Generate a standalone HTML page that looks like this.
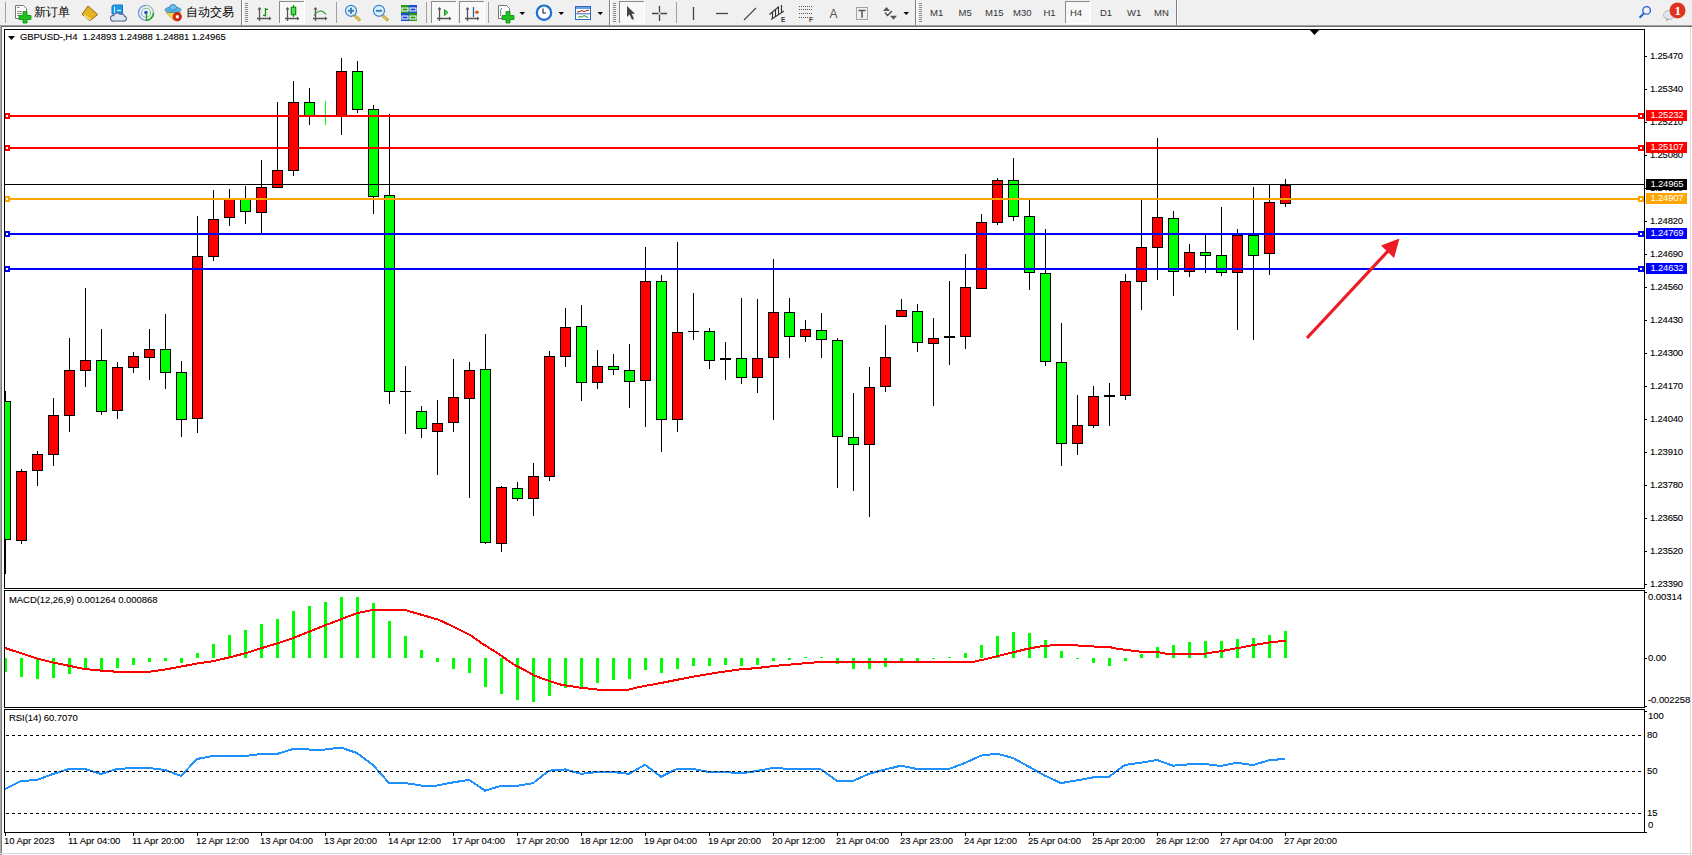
<!DOCTYPE html>
<html><head><meta charset="utf-8">
<style>
html,body{margin:0;padding:0;}
body{width:1692px;height:855px;position:relative;overflow:hidden;background:#fff;font-family:"Liberation Sans",sans-serif;}
#tb{position:absolute;left:0;top:0;width:1692px;height:25px;background:#f0f0f0;}
#tbl{position:absolute;left:0;top:25px;width:1692px;height:1px;background:#a0a0a0;}
#tbl2{position:absolute;left:0;top:26px;width:1692px;height:1px;background:#6e6e6e;}
#lb{position:absolute;left:0;top:25px;width:1px;height:830px;background:#a8a8a8;}
#lb2{position:absolute;left:1px;top:25px;width:1px;height:830px;background:#7c7c7c;}
#rb{position:absolute;left:1690px;top:27px;width:1px;height:828px;background:#dcdcdc;}
#bb{position:absolute;left:0;top:853px;width:1692px;height:1px;background:#dcdcdc;}
svg#ch{position:absolute;left:0;top:0;}
.ax{position:absolute;font-size:9.5px;line-height:12px;white-space:nowrap;color:#000;letter-spacing:-0.07px;-webkit-text-stroke:0.1px #000;}
.pax{letter-spacing:-0.2px;}
.plab{position:absolute;left:1646px;width:41px;height:11px;color:#fff;font-size:9.5px;line-height:9px;text-indent:4.5px;letter-spacing:-0.2px;white-space:nowrap;}
.tbt{position:absolute;font-size:9.5px;line-height:12px;color:#333;white-space:nowrap;}
.tbc{position:absolute;line-height:14px;color:#000;white-space:nowrap;}
</style></head><body>
<div id="tb"></div><div id="tbl"></div><div id="tbl2"></div><div id="lb"></div><div id="lb2"></div><div id="rb"></div><div id="bb"></div>
<svg id="ch" width="1692" height="855" viewBox="0 0 1692 855">
<defs><clipPath id="cm"><rect x="5" y="30" width="1639" height="558"/></clipPath><clipPath id="cd"><rect x="5" y="591" width="1639" height="116"/></clipPath><clipPath id="cr"><rect x="5" y="710" width="1639" height="122"/></clipPath></defs>
<g clip-path="url(#cm)" shape-rendering="crispEdges">
<rect x="5" y="391" width="1" height="183" fill="#000"/>
<rect x="0" y="401" width="11" height="139" fill="#000"/>
<rect x="1" y="402" width="9" height="137" fill="#00ff00"/>
<rect x="21" y="469" width="1" height="75" fill="#000"/>
<rect x="16" y="471" width="11" height="70" fill="#000"/>
<rect x="17" y="472" width="9" height="68" fill="#ff0000"/>
<rect x="37" y="451" width="1" height="35" fill="#000"/>
<rect x="32" y="454" width="11" height="17" fill="#000"/>
<rect x="33" y="455" width="9" height="15" fill="#ff0000"/>
<rect x="53" y="398" width="1" height="68" fill="#000"/>
<rect x="48" y="415" width="11" height="40" fill="#000"/>
<rect x="49" y="416" width="9" height="38" fill="#ff0000"/>
<rect x="69" y="338" width="1" height="94" fill="#000"/>
<rect x="64" y="370" width="11" height="46" fill="#000"/>
<rect x="65" y="371" width="9" height="44" fill="#ff0000"/>
<rect x="85" y="288" width="1" height="99" fill="#000"/>
<rect x="80" y="360" width="11" height="11" fill="#000"/>
<rect x="81" y="361" width="9" height="9" fill="#ff0000"/>
<rect x="101" y="329" width="1" height="86" fill="#000"/>
<rect x="96" y="360" width="11" height="52" fill="#000"/>
<rect x="97" y="361" width="9" height="50" fill="#00ff00"/>
<rect x="117" y="362" width="1" height="57" fill="#000"/>
<rect x="112" y="367" width="11" height="44" fill="#000"/>
<rect x="113" y="368" width="9" height="42" fill="#ff0000"/>
<rect x="133" y="352" width="1" height="21" fill="#000"/>
<rect x="128" y="356" width="11" height="12" fill="#000"/>
<rect x="129" y="357" width="9" height="10" fill="#ff0000"/>
<rect x="149" y="329" width="1" height="51" fill="#000"/>
<rect x="144" y="349" width="11" height="9" fill="#000"/>
<rect x="145" y="350" width="9" height="7" fill="#ff0000"/>
<rect x="165" y="314" width="1" height="75" fill="#000"/>
<rect x="160" y="349" width="11" height="24" fill="#000"/>
<rect x="161" y="350" width="9" height="22" fill="#00ff00"/>
<rect x="181" y="361" width="1" height="76" fill="#000"/>
<rect x="176" y="372" width="11" height="48" fill="#000"/>
<rect x="177" y="373" width="9" height="46" fill="#00ff00"/>
<rect x="197" y="216" width="1" height="217" fill="#000"/>
<rect x="192" y="256" width="11" height="163" fill="#000"/>
<rect x="193" y="257" width="9" height="161" fill="#ff0000"/>
<rect x="213" y="190" width="1" height="71" fill="#000"/>
<rect x="208" y="219" width="11" height="38" fill="#000"/>
<rect x="209" y="220" width="9" height="36" fill="#ff0000"/>
<rect x="229" y="189" width="1" height="37" fill="#000"/>
<rect x="224" y="199" width="11" height="19" fill="#000"/>
<rect x="225" y="200" width="9" height="17" fill="#ff0000"/>
<rect x="245" y="186" width="1" height="38" fill="#000"/>
<rect x="240" y="199" width="11" height="13" fill="#000"/>
<rect x="241" y="200" width="9" height="11" fill="#00ff00"/>
<rect x="261" y="160" width="1" height="74" fill="#000"/>
<rect x="256" y="187" width="11" height="26" fill="#000"/>
<rect x="257" y="188" width="9" height="24" fill="#ff0000"/>
<rect x="277" y="102" width="1" height="86" fill="#000"/>
<rect x="272" y="170" width="11" height="18" fill="#000"/>
<rect x="273" y="171" width="9" height="16" fill="#ff0000"/>
<rect x="293" y="81" width="1" height="95" fill="#000"/>
<rect x="288" y="102" width="11" height="69" fill="#000"/>
<rect x="289" y="103" width="9" height="67" fill="#ff0000"/>
<rect x="309" y="88" width="1" height="37" fill="#000"/>
<rect x="304" y="102" width="11" height="14" fill="#000"/>
<rect x="305" y="103" width="9" height="12" fill="#00ff00"/>
<rect x="325" y="101" width="1" height="24" fill="#00ff00"/>
<rect x="341" y="58" width="1" height="77" fill="#000"/>
<rect x="336" y="71" width="11" height="45" fill="#000"/>
<rect x="337" y="72" width="9" height="43" fill="#ff0000"/>
<rect x="357" y="61" width="1" height="52" fill="#000"/>
<rect x="352" y="71" width="11" height="39" fill="#000"/>
<rect x="353" y="72" width="9" height="37" fill="#00ff00"/>
<rect x="373" y="105" width="1" height="109" fill="#000"/>
<rect x="368" y="109" width="11" height="88" fill="#000"/>
<rect x="369" y="110" width="9" height="86" fill="#00ff00"/>
<rect x="389" y="114" width="1" height="290" fill="#000"/>
<rect x="384" y="195" width="11" height="197" fill="#000"/>
<rect x="385" y="196" width="9" height="195" fill="#00ff00"/>
<rect x="405" y="366" width="1" height="68" fill="#000"/>
<rect x="400" y="391" width="11" height="1" fill="#000"/>
<rect x="421" y="406" width="1" height="32" fill="#000"/>
<rect x="416" y="411" width="11" height="18" fill="#000"/>
<rect x="417" y="412" width="9" height="16" fill="#00ff00"/>
<rect x="437" y="400" width="1" height="75" fill="#000"/>
<rect x="432" y="423" width="11" height="9" fill="#000"/>
<rect x="433" y="424" width="9" height="7" fill="#ff0000"/>
<rect x="453" y="359" width="1" height="73" fill="#000"/>
<rect x="448" y="397" width="11" height="26" fill="#000"/>
<rect x="449" y="398" width="9" height="24" fill="#ff0000"/>
<rect x="469" y="362" width="1" height="136" fill="#000"/>
<rect x="464" y="370" width="11" height="29" fill="#000"/>
<rect x="465" y="371" width="9" height="27" fill="#ff0000"/>
<rect x="485" y="334" width="1" height="210" fill="#000"/>
<rect x="480" y="369" width="11" height="174" fill="#000"/>
<rect x="481" y="370" width="9" height="172" fill="#00ff00"/>
<rect x="501" y="486" width="1" height="66" fill="#000"/>
<rect x="496" y="487" width="11" height="57" fill="#000"/>
<rect x="497" y="488" width="9" height="55" fill="#ff0000"/>
<rect x="517" y="482" width="1" height="19" fill="#000"/>
<rect x="512" y="488" width="11" height="11" fill="#000"/>
<rect x="513" y="489" width="9" height="9" fill="#00ff00"/>
<rect x="533" y="463" width="1" height="53" fill="#000"/>
<rect x="528" y="476" width="11" height="23" fill="#000"/>
<rect x="529" y="477" width="9" height="21" fill="#ff0000"/>
<rect x="549" y="351" width="1" height="130" fill="#000"/>
<rect x="544" y="356" width="11" height="121" fill="#000"/>
<rect x="545" y="357" width="9" height="119" fill="#ff0000"/>
<rect x="565" y="308" width="1" height="59" fill="#000"/>
<rect x="560" y="327" width="11" height="30" fill="#000"/>
<rect x="561" y="328" width="9" height="28" fill="#ff0000"/>
<rect x="581" y="305" width="1" height="96" fill="#000"/>
<rect x="576" y="326" width="11" height="57" fill="#000"/>
<rect x="577" y="327" width="9" height="55" fill="#00ff00"/>
<rect x="597" y="350" width="1" height="39" fill="#000"/>
<rect x="592" y="366" width="11" height="17" fill="#000"/>
<rect x="593" y="367" width="9" height="15" fill="#ff0000"/>
<rect x="613" y="354" width="1" height="21" fill="#000"/>
<rect x="608" y="366" width="11" height="4" fill="#000"/>
<rect x="609" y="367" width="9" height="2" fill="#00ff00"/>
<rect x="629" y="344" width="1" height="64" fill="#000"/>
<rect x="624" y="370" width="11" height="12" fill="#000"/>
<rect x="625" y="371" width="9" height="10" fill="#00ff00"/>
<rect x="645" y="247" width="1" height="180" fill="#000"/>
<rect x="640" y="281" width="11" height="100" fill="#000"/>
<rect x="641" y="282" width="9" height="98" fill="#ff0000"/>
<rect x="661" y="275" width="1" height="177" fill="#000"/>
<rect x="656" y="281" width="11" height="139" fill="#000"/>
<rect x="657" y="282" width="9" height="137" fill="#00ff00"/>
<rect x="677" y="242" width="1" height="190" fill="#000"/>
<rect x="672" y="332" width="11" height="88" fill="#000"/>
<rect x="673" y="333" width="9" height="86" fill="#ff0000"/>
<rect x="693" y="293" width="1" height="47" fill="#000"/>
<rect x="688" y="331" width="11" height="1" fill="#000"/>
<rect x="709" y="328" width="1" height="41" fill="#000"/>
<rect x="704" y="331" width="11" height="30" fill="#000"/>
<rect x="705" y="332" width="9" height="28" fill="#00ff00"/>
<rect x="725" y="342" width="1" height="38" fill="#000"/>
<rect x="720" y="358" width="11" height="2" fill="#000"/>
<rect x="741" y="298" width="1" height="86" fill="#000"/>
<rect x="736" y="358" width="11" height="20" fill="#000"/>
<rect x="737" y="359" width="9" height="18" fill="#00ff00"/>
<rect x="757" y="299" width="1" height="94" fill="#000"/>
<rect x="752" y="358" width="11" height="20" fill="#000"/>
<rect x="753" y="359" width="9" height="18" fill="#ff0000"/>
<rect x="773" y="259" width="1" height="161" fill="#000"/>
<rect x="768" y="312" width="11" height="46" fill="#000"/>
<rect x="769" y="313" width="9" height="44" fill="#ff0000"/>
<rect x="789" y="298" width="1" height="60" fill="#000"/>
<rect x="784" y="312" width="11" height="25" fill="#000"/>
<rect x="785" y="313" width="9" height="23" fill="#00ff00"/>
<rect x="805" y="320" width="1" height="22" fill="#000"/>
<rect x="800" y="329" width="11" height="8" fill="#000"/>
<rect x="801" y="330" width="9" height="6" fill="#ff0000"/>
<rect x="821" y="313" width="1" height="45" fill="#000"/>
<rect x="816" y="330" width="11" height="10" fill="#000"/>
<rect x="817" y="331" width="9" height="8" fill="#00ff00"/>
<rect x="837" y="338" width="1" height="150" fill="#000"/>
<rect x="832" y="340" width="11" height="97" fill="#000"/>
<rect x="833" y="341" width="9" height="95" fill="#00ff00"/>
<rect x="853" y="393" width="1" height="98" fill="#000"/>
<rect x="848" y="437" width="11" height="8" fill="#000"/>
<rect x="849" y="438" width="9" height="6" fill="#00ff00"/>
<rect x="869" y="367" width="1" height="150" fill="#000"/>
<rect x="864" y="387" width="11" height="58" fill="#000"/>
<rect x="865" y="388" width="9" height="56" fill="#ff0000"/>
<rect x="885" y="325" width="1" height="67" fill="#000"/>
<rect x="880" y="357" width="11" height="30" fill="#000"/>
<rect x="881" y="358" width="9" height="28" fill="#ff0000"/>
<rect x="901" y="299" width="1" height="18" fill="#000"/>
<rect x="896" y="310" width="11" height="7" fill="#000"/>
<rect x="897" y="311" width="9" height="5" fill="#ff0000"/>
<rect x="917" y="304" width="1" height="48" fill="#000"/>
<rect x="912" y="311" width="11" height="32" fill="#000"/>
<rect x="913" y="312" width="9" height="30" fill="#00ff00"/>
<rect x="933" y="318" width="1" height="88" fill="#000"/>
<rect x="928" y="338" width="11" height="6" fill="#000"/>
<rect x="929" y="339" width="9" height="4" fill="#ff0000"/>
<rect x="949" y="281" width="1" height="84" fill="#000"/>
<rect x="944" y="336" width="11" height="2" fill="#000"/>
<rect x="965" y="254" width="1" height="95" fill="#000"/>
<rect x="960" y="287" width="11" height="50" fill="#000"/>
<rect x="961" y="288" width="9" height="48" fill="#ff0000"/>
<rect x="981" y="214" width="1" height="75" fill="#000"/>
<rect x="976" y="222" width="11" height="67" fill="#000"/>
<rect x="977" y="223" width="9" height="65" fill="#ff0000"/>
<rect x="997" y="178" width="1" height="47" fill="#000"/>
<rect x="992" y="180" width="11" height="43" fill="#000"/>
<rect x="993" y="181" width="9" height="41" fill="#ff0000"/>
<rect x="1013" y="158" width="1" height="63" fill="#000"/>
<rect x="1008" y="180" width="11" height="37" fill="#000"/>
<rect x="1009" y="181" width="9" height="35" fill="#00ff00"/>
<rect x="1029" y="200" width="1" height="90" fill="#000"/>
<rect x="1024" y="216" width="11" height="57" fill="#000"/>
<rect x="1025" y="217" width="9" height="55" fill="#00ff00"/>
<rect x="1045" y="229" width="1" height="137" fill="#000"/>
<rect x="1040" y="273" width="11" height="89" fill="#000"/>
<rect x="1041" y="274" width="9" height="87" fill="#00ff00"/>
<rect x="1061" y="323" width="1" height="143" fill="#000"/>
<rect x="1056" y="362" width="11" height="82" fill="#000"/>
<rect x="1057" y="363" width="9" height="80" fill="#00ff00"/>
<rect x="1077" y="395" width="1" height="60" fill="#000"/>
<rect x="1072" y="425" width="11" height="19" fill="#000"/>
<rect x="1073" y="426" width="9" height="17" fill="#ff0000"/>
<rect x="1093" y="386" width="1" height="42" fill="#000"/>
<rect x="1088" y="396" width="11" height="30" fill="#000"/>
<rect x="1089" y="397" width="9" height="28" fill="#ff0000"/>
<rect x="1109" y="383" width="1" height="43" fill="#000"/>
<rect x="1104" y="395" width="11" height="2" fill="#000"/>
<rect x="1125" y="274" width="1" height="126" fill="#000"/>
<rect x="1120" y="281" width="11" height="115" fill="#000"/>
<rect x="1121" y="282" width="9" height="113" fill="#ff0000"/>
<rect x="1141" y="200" width="1" height="110" fill="#000"/>
<rect x="1136" y="247" width="11" height="35" fill="#000"/>
<rect x="1137" y="248" width="9" height="33" fill="#ff0000"/>
<rect x="1157" y="138" width="1" height="142" fill="#000"/>
<rect x="1152" y="217" width="11" height="31" fill="#000"/>
<rect x="1153" y="218" width="9" height="29" fill="#ff0000"/>
<rect x="1173" y="211" width="1" height="85" fill="#000"/>
<rect x="1168" y="218" width="11" height="54" fill="#000"/>
<rect x="1169" y="219" width="9" height="52" fill="#00ff00"/>
<rect x="1189" y="244" width="1" height="33" fill="#000"/>
<rect x="1184" y="252" width="11" height="20" fill="#000"/>
<rect x="1185" y="253" width="9" height="18" fill="#ff0000"/>
<rect x="1205" y="235" width="1" height="38" fill="#000"/>
<rect x="1200" y="252" width="11" height="4" fill="#000"/>
<rect x="1201" y="253" width="9" height="2" fill="#00ff00"/>
<rect x="1221" y="207" width="1" height="69" fill="#000"/>
<rect x="1216" y="255" width="11" height="18" fill="#000"/>
<rect x="1217" y="256" width="9" height="16" fill="#00ff00"/>
<rect x="1237" y="229" width="1" height="101" fill="#000"/>
<rect x="1232" y="235" width="11" height="38" fill="#000"/>
<rect x="1233" y="236" width="9" height="36" fill="#ff0000"/>
<rect x="1253" y="187" width="1" height="153" fill="#000"/>
<rect x="1248" y="235" width="11" height="21" fill="#000"/>
<rect x="1249" y="236" width="9" height="19" fill="#00ff00"/>
<rect x="1269" y="185" width="1" height="90" fill="#000"/>
<rect x="1264" y="202" width="11" height="52" fill="#000"/>
<rect x="1265" y="203" width="9" height="50" fill="#ff0000"/>
<rect x="1285" y="179" width="1" height="28" fill="#000"/>
<rect x="1280" y="185" width="11" height="19" fill="#000"/>
<rect x="1281" y="186" width="9" height="17" fill="#ff0000"/>
<rect x="4" y="115" width="1640" height="2" fill="#ff0000"/>
<rect x="4" y="147" width="1640" height="2" fill="#ff0000"/>
<rect x="4" y="198" width="1640" height="2" fill="#ffa500"/>
<rect x="4" y="233" width="1640" height="2" fill="#0000ff"/>
<rect x="4" y="268" width="1640" height="2" fill="#0000ff"/>
<rect x="4" y="184" width="1640" height="1" fill="#000"/>
</g>
<rect x="4" y="113" width="6" height="6" fill="#ff0000" shape-rendering="crispEdges"/><rect x="6" y="115" width="2" height="2" fill="#fff" shape-rendering="crispEdges"/>
<rect x="1638" y="113" width="6" height="6" fill="#ff0000" shape-rendering="crispEdges"/><rect x="1640" y="115" width="2" height="2" fill="#fff" shape-rendering="crispEdges"/>
<rect x="4" y="145" width="6" height="6" fill="#ff0000" shape-rendering="crispEdges"/><rect x="6" y="147" width="2" height="2" fill="#fff" shape-rendering="crispEdges"/>
<rect x="1638" y="145" width="6" height="6" fill="#ff0000" shape-rendering="crispEdges"/><rect x="1640" y="147" width="2" height="2" fill="#fff" shape-rendering="crispEdges"/>
<rect x="4" y="196" width="6" height="6" fill="#ffa500" shape-rendering="crispEdges"/><rect x="6" y="198" width="2" height="2" fill="#fff" shape-rendering="crispEdges"/>
<rect x="1638" y="196" width="6" height="6" fill="#ffa500" shape-rendering="crispEdges"/><rect x="1640" y="198" width="2" height="2" fill="#fff" shape-rendering="crispEdges"/>
<rect x="4" y="231" width="6" height="6" fill="#0000ff" shape-rendering="crispEdges"/><rect x="6" y="233" width="2" height="2" fill="#fff" shape-rendering="crispEdges"/>
<rect x="1638" y="231" width="6" height="6" fill="#0000ff" shape-rendering="crispEdges"/><rect x="1640" y="233" width="2" height="2" fill="#fff" shape-rendering="crispEdges"/>
<rect x="4" y="266" width="6" height="6" fill="#0000ff" shape-rendering="crispEdges"/><rect x="6" y="268" width="2" height="2" fill="#fff" shape-rendering="crispEdges"/>
<rect x="1638" y="266" width="6" height="6" fill="#0000ff" shape-rendering="crispEdges"/><rect x="1640" y="268" width="2" height="2" fill="#fff" shape-rendering="crispEdges"/>
<g><line x1="1307" y1="338" x2="1388" y2="251" stroke="#ec1c24" stroke-width="3.2"/><polygon points="1399.5,238.5 1381,245.5 1394,258" fill="#ec1c24"/></g>
<polygon points="8,36 15,36 11.5,40" fill="#000"/>
<polygon points="1309,29 1320,29 1314.5,35" fill="#000"/>
<g clip-path="url(#cd)" shape-rendering="crispEdges">
<rect x="4" y="658" width="3" height="14" fill="#00ff00"/>
<rect x="20" y="658" width="3" height="19" fill="#00ff00"/>
<rect x="36" y="658" width="3" height="21" fill="#00ff00"/>
<rect x="52" y="658" width="3" height="20" fill="#00ff00"/>
<rect x="68" y="658" width="3" height="16" fill="#00ff00"/>
<rect x="84" y="658" width="3" height="11" fill="#00ff00"/>
<rect x="100" y="658" width="3" height="12" fill="#00ff00"/>
<rect x="116" y="658" width="3" height="10" fill="#00ff00"/>
<rect x="132" y="658" width="3" height="7" fill="#00ff00"/>
<rect x="148" y="658" width="3" height="4" fill="#00ff00"/>
<rect x="164" y="658" width="3" height="3" fill="#00ff00"/>
<rect x="180" y="658" width="3" height="5" fill="#00ff00"/>
<rect x="196" y="653" width="3" height="5" fill="#00ff00"/>
<rect x="212" y="644" width="3" height="14" fill="#00ff00"/>
<rect x="228" y="635" width="3" height="23" fill="#00ff00"/>
<rect x="244" y="630" width="3" height="28" fill="#00ff00"/>
<rect x="260" y="624" width="3" height="34" fill="#00ff00"/>
<rect x="276" y="619" width="3" height="39" fill="#00ff00"/>
<rect x="292" y="611" width="3" height="47" fill="#00ff00"/>
<rect x="308" y="606" width="3" height="52" fill="#00ff00"/>
<rect x="324" y="602" width="3" height="56" fill="#00ff00"/>
<rect x="340" y="597" width="3" height="61" fill="#00ff00"/>
<rect x="356" y="597" width="3" height="61" fill="#00ff00"/>
<rect x="372" y="603" width="3" height="55" fill="#00ff00"/>
<rect x="388" y="621" width="3" height="37" fill="#00ff00"/>
<rect x="404" y="636" width="3" height="22" fill="#00ff00"/>
<rect x="420" y="650" width="3" height="8" fill="#00ff00"/>
<rect x="436" y="658" width="3" height="4" fill="#00ff00"/>
<rect x="452" y="658" width="3" height="11" fill="#00ff00"/>
<rect x="468" y="658" width="3" height="15" fill="#00ff00"/>
<rect x="484" y="658" width="3" height="29" fill="#00ff00"/>
<rect x="500" y="658" width="3" height="36" fill="#00ff00"/>
<rect x="516" y="658" width="3" height="42" fill="#00ff00"/>
<rect x="532" y="658" width="3" height="44" fill="#00ff00"/>
<rect x="548" y="658" width="3" height="38" fill="#00ff00"/>
<rect x="564" y="658" width="3" height="30" fill="#00ff00"/>
<rect x="580" y="658" width="3" height="29" fill="#00ff00"/>
<rect x="596" y="658" width="3" height="25" fill="#00ff00"/>
<rect x="612" y="658" width="3" height="22" fill="#00ff00"/>
<rect x="628" y="658" width="3" height="21" fill="#00ff00"/>
<rect x="644" y="658" width="3" height="12" fill="#00ff00"/>
<rect x="660" y="658" width="3" height="15" fill="#00ff00"/>
<rect x="676" y="658" width="3" height="11" fill="#00ff00"/>
<rect x="692" y="658" width="3" height="8" fill="#00ff00"/>
<rect x="708" y="658" width="3" height="8" fill="#00ff00"/>
<rect x="724" y="658" width="3" height="7" fill="#00ff00"/>
<rect x="740" y="658" width="3" height="8" fill="#00ff00"/>
<rect x="756" y="658" width="3" height="7" fill="#00ff00"/>
<rect x="772" y="658" width="3" height="3" fill="#00ff00"/>
<rect x="788" y="658" width="3" height="2" fill="#00ff00"/>
<rect x="804" y="657" width="3" height="1" fill="#00ff00"/>
<rect x="820" y="657" width="3" height="1" fill="#00ff00"/>
<rect x="836" y="658" width="3" height="6" fill="#00ff00"/>
<rect x="852" y="658" width="3" height="11" fill="#00ff00"/>
<rect x="868" y="658" width="3" height="11" fill="#00ff00"/>
<rect x="884" y="658" width="3" height="9" fill="#00ff00"/>
<rect x="900" y="658" width="3" height="3" fill="#00ff00"/>
<rect x="916" y="658" width="3" height="3" fill="#00ff00"/>
<rect x="932" y="658" width="3" height="1" fill="#00ff00"/>
<rect x="948" y="657" width="3" height="1" fill="#00ff00"/>
<rect x="964" y="653" width="3" height="5" fill="#00ff00"/>
<rect x="980" y="645" width="3" height="13" fill="#00ff00"/>
<rect x="996" y="636" width="3" height="22" fill="#00ff00"/>
<rect x="1012" y="632" width="3" height="26" fill="#00ff00"/>
<rect x="1028" y="633" width="3" height="25" fill="#00ff00"/>
<rect x="1044" y="640" width="3" height="18" fill="#00ff00"/>
<rect x="1060" y="651" width="3" height="7" fill="#00ff00"/>
<rect x="1076" y="658" width="3" height="1" fill="#00ff00"/>
<rect x="1092" y="658" width="3" height="5" fill="#00ff00"/>
<rect x="1108" y="658" width="3" height="8" fill="#00ff00"/>
<rect x="1124" y="658" width="3" height="3" fill="#00ff00"/>
<rect x="1140" y="654" width="3" height="4" fill="#00ff00"/>
<rect x="1156" y="647" width="3" height="11" fill="#00ff00"/>
<rect x="1172" y="645" width="3" height="13" fill="#00ff00"/>
<rect x="1188" y="642" width="3" height="16" fill="#00ff00"/>
<rect x="1204" y="641" width="3" height="17" fill="#00ff00"/>
<rect x="1220" y="641" width="3" height="17" fill="#00ff00"/>
<rect x="1236" y="639" width="3" height="19" fill="#00ff00"/>
<rect x="1252" y="638" width="3" height="20" fill="#00ff00"/>
<rect x="1268" y="635" width="3" height="23" fill="#00ff00"/>
<rect x="1284" y="631" width="3" height="27" fill="#00ff00"/>
</g>
<g clip-path="url(#cd)"><polyline points="5,648 21.5,653.4 37.6,658.8 53.8,662.6 69.9,666 85.3,669.1 101.4,670.6 117.5,671.8 149,671.8 165.2,669.5 181.3,666.5 197.4,663.4 213.6,661.1 229.7,657.3 245.9,653.1 261.3,648.2 277.2,643.4 293.2,638.1 309.1,631.7 325.1,625.3 341.1,619.3 357,613.1 373,609.9 405,609.9 416.9,613.5 426.1,616.1 438.4,619.7 449.1,624.6 461.4,630.7 470.7,635.3 481.4,643 493.7,650.7 502.9,656.9 515.2,665.3 524.4,669.9 533.7,675.3 546,679.9 561.3,684.8 579.8,687.6 598.2,689.6 629,689.6 639.5,686.9 659,683.4 678.5,679.5 698,675.8 717.5,672.6 737,669.7 756.5,668.1 776,665.8 802,663.5 821.6,661.9 973,661.9 986,659 999,655.8 1012,652.6 1025,649.4 1038,646.8 1046,645.7 1062.3,645 1078,645.5 1094,646.5 1109,647 1117.6,648.8 1133.7,650.8 1142.2,651.9 1156.8,651.9 1166,653.7 1204.4,653.7 1221.3,651.1 1238.2,648 1253.6,645 1270.5,642.2 1285.8,640.7" fill="none" stroke="#ff0000" stroke-width="2" shape-rendering="crispEdges"/></g>
<g clip-path="url(#cr)"><polyline points="5,789 21,781 37,780 53,774 69,769 85,769 101,774 117,769 133,768 149,768 165,770 181,776 197,759 213,756 229,756 245,756 261,754 277,754 293,749 309,749.5 325,749.5 341,747.6 357,753 373,765 389,783 405,783 421,785.5 437,785.5 453,782.4 469,779.8 485,790.7 501,785.8 517,785.8 533,783.2 549,770.7 565,769.4 581,773.8 597,772 613,772 629,773.8 645,764.7 661,776.7 677,768.9 693,768.9 709,772 725,772 741,773.3 757,771 773,767.9 789,768.9 805,768.9 821,769.4 837,780.9 853,780.9 869,773.8 885,769.5 901,765.7 917,769 933,769 949,769 965,763 981,755.6 997,753.7 1013,758 1029,766.8 1045,775.7 1061,783.1 1077,780.4 1093,777.4 1109,776.8 1125,764.9 1141,762.7 1157,760 1173,765.7 1189,764.3 1205,764 1221,766 1237,762.7 1253,765.1 1269,760.2 1285,758.9" fill="none" stroke="#1e90ff" stroke-width="2" shape-rendering="crispEdges"/></g>
<g shape-rendering="crispEdges">
<line x1="6" y1="735.5" x2="1644" y2="735.5" stroke="#000" stroke-width="1" stroke-dasharray="3,3"/>
<line x1="6" y1="771.5" x2="1644" y2="771.5" stroke="#000" stroke-width="1" stroke-dasharray="3,3"/>
<line x1="6" y1="813.5" x2="1644" y2="813.5" stroke="#000" stroke-width="1" stroke-dasharray="3,3"/>
</g>
<g shape-rendering="crispEdges" fill="#000">
<rect x="4" y="29" width="1641" height="1"/>
<rect x="4" y="29" width="1" height="560"/>
<rect x="1644" y="29" width="1" height="560"/>
<rect x="4" y="588" width="1641" height="1"/>
<rect x="4" y="590" width="1641" height="1"/>
<rect x="4" y="590" width="1" height="118"/>
<rect x="1644" y="590" width="1" height="118"/>
<rect x="4" y="707" width="1641" height="1"/>
<rect x="4" y="709" width="1641" height="1"/>
<rect x="4" y="709" width="1" height="124"/>
<rect x="1644" y="709" width="1" height="124"/>
<rect x="4" y="832" width="1641" height="1"/>
<rect x="1645" y="56" width="2" height="1"/>
<rect x="1645" y="89" width="2" height="1"/>
<rect x="1645" y="122" width="2" height="1"/>
<rect x="1645" y="155" width="2" height="1"/>
<rect x="1645" y="188" width="2" height="1"/>
<rect x="1645" y="221" width="2" height="1"/>
<rect x="1645" y="254" width="2" height="1"/>
<rect x="1645" y="287" width="2" height="1"/>
<rect x="1645" y="320" width="2" height="1"/>
<rect x="1645" y="353" width="2" height="1"/>
<rect x="1645" y="386" width="2" height="1"/>
<rect x="1645" y="419" width="2" height="1"/>
<rect x="1645" y="452" width="2" height="1"/>
<rect x="1645" y="485" width="2" height="1"/>
<rect x="1645" y="518" width="2" height="1"/>
<rect x="1645" y="551" width="2" height="1"/>
<rect x="1645" y="584" width="2" height="1"/>
<rect x="1645" y="592" width="2" height="1"/>
<rect x="1645" y="658" width="2" height="1"/>
<rect x="1645" y="706" width="2" height="1"/>
<rect x="1645" y="711" width="2" height="1"/>
<rect x="1645" y="832" width="2" height="1"/>
<rect x="5" y="833" width="1" height="3"/>
<rect x="69" y="833" width="1" height="3"/>
<rect x="133" y="833" width="1" height="3"/>
<rect x="197" y="833" width="1" height="3"/>
<rect x="261" y="833" width="1" height="3"/>
<rect x="325" y="833" width="1" height="3"/>
<rect x="389" y="833" width="1" height="3"/>
<rect x="453" y="833" width="1" height="3"/>
<rect x="517" y="833" width="1" height="3"/>
<rect x="581" y="833" width="1" height="3"/>
<rect x="645" y="833" width="1" height="3"/>
<rect x="709" y="833" width="1" height="3"/>
<rect x="773" y="833" width="1" height="3"/>
<rect x="837" y="833" width="1" height="3"/>
<rect x="901" y="833" width="1" height="3"/>
<rect x="965" y="833" width="1" height="3"/>
<rect x="1029" y="833" width="1" height="3"/>
<rect x="1093" y="833" width="1" height="3"/>
<rect x="1157" y="833" width="1" height="3"/>
<rect x="1221" y="833" width="1" height="3"/>
<rect x="1285" y="833" width="1" height="3"/>
</g>
<rect x="5" y="2" width="1" height="21" fill="#a0a0a0"/>
<path d="M15.5 5.5H23.5L26.5 8.5V18.5H15.5Z" fill="#fff" stroke="#777" stroke-width="1"/>
<path d="M17 7.5H19.5M17 11.5H22M17 13.5H22M17 15.5H20" stroke="#888" stroke-width="1"/>
<path d="M23 11.5H27V15.5H31V19.5H27V23H23V19.5H19V15.5H23Z" fill="#1ec21e" stroke="#0a8a0a" stroke-width="0.8"/>
<path d="M88 6L97.7 14.5L90 20.8L82 14.3Z" fill="#e6b422" stroke="#9a6410" stroke-width="1"/>
<path d="M84 15.5L91 20" stroke="#f7e08a" stroke-width="1.5"/>
<path d="M112 6L114 5H122.5V14H112Z" fill="#1a9be8" stroke="#1a70c9" stroke-width="1"/>
<path d="M114.5 6.5V13.5" stroke="#d8f0ff" stroke-width="1"/><path d="M117 10.5H121" stroke="#e0f4ff" stroke-width="1.2"/>
<g fill="#4a5f8a"><circle cx="113.2" cy="18.3" r="3.2"/><circle cx="117.2" cy="16.6" r="4.0"/><circle cx="121.5" cy="17.0" r="3.6"/><circle cx="124.0" cy="18.6" r="2.9"/><rect x="111.5" y="17.5" width="13" height="4"/></g>
<g fill="#dfe5ef"><circle cx="113.2" cy="18.3" r="2.2"/><circle cx="117.2" cy="16.6" r="3.0"/><circle cx="121.5" cy="17.0" r="2.6"/><circle cx="124.0" cy="18.6" r="1.9"/><rect x="112.5" y="17.5" width="11.5" height="3"/></g>
<g fill="none"><path d="M146 5.3A7.5 7.5 0 0 0 146 20.3" stroke="#6f8fd8" stroke-width="1.2"/><path d="M146 5.3A7.5 7.5 0 0 1 153.5 12.8" stroke="#9cc4b8" stroke-width="1.2"/><path d="M153.5 12.8A7.5 7.5 0 0 1 146 20.3" stroke="#2fa52f" stroke-width="1.8"/><path d="M146 8.3A4.5 4.5 0 0 0 146 17.3" stroke="#88a8dc" stroke-width="1.1"/><path d="M146 8.3A4.5 4.5 0 0 1 146 17.3" stroke="#8cc48c" stroke-width="1.1"/></g>
<circle cx="146" cy="12.6" r="1.8" fill="#1f4fc0"/>
<path d="M146.5 13V20.8" stroke="#20a020" stroke-width="1.3"/>
<path d="M166 12.5L174 20.5L181 12.5Z" fill="#f4dc50" stroke="#c09a20" stroke-width="0.8"/>
<ellipse cx="173" cy="9.8" rx="8" ry="2.8" fill="#5ab4e4" stroke="#2a80b0" stroke-width="0.8"/>
<ellipse cx="173" cy="7.5" rx="3.5" ry="3" fill="#6cc0ec" stroke="#2a80b0" stroke-width="0.8"/>
<circle cx="177.3" cy="16.8" r="4.2" fill="#e01e0a" stroke="#a01008" stroke-width="0.6"/>
<rect x="175.8" y="15.3" width="3" height="3" fill="#fff"/>
<rect x="241" y="0" width="1" height="25" fill="#808080"/><rect x="242" y="0" width="1" height="25" fill="#fff"/>
<rect x="245" y="3" width="3" height="1" fill="#8a8a8a"/>
<rect x="245" y="5" width="3" height="1" fill="#8a8a8a"/>
<rect x="245" y="7" width="3" height="1" fill="#8a8a8a"/>
<rect x="245" y="9" width="3" height="1" fill="#8a8a8a"/>
<rect x="245" y="11" width="3" height="1" fill="#8a8a8a"/>
<rect x="245" y="13" width="3" height="1" fill="#8a8a8a"/>
<rect x="245" y="15" width="3" height="1" fill="#8a8a8a"/>
<rect x="245" y="17" width="3" height="1" fill="#8a8a8a"/>
<rect x="245" y="19" width="3" height="1" fill="#8a8a8a"/>
<rect x="245" y="21" width="3" height="1" fill="#8a8a8a"/>
<path d="M259.5 8V21 M257 18.5H270" stroke="#555" stroke-width="1.3" fill="none"/>
<path d="M257.5 9.5L259.5 7L261.5 9.5Z M269 16.5L271.5 18.5L269 20.5Z" fill="#555"/>
<path d="M265.5 8V16.6M265.5 9.4H268M263 15.3H265.5" stroke="#139413" stroke-width="1.3" fill="none"/>
<rect x="279" y="1" width="25" height="22" fill="#f8f8f8"/>
<rect x="279" y="1" width="25" height="1" fill="#8c8c8c"/>
<rect x="279" y="1" width="1" height="22" fill="#8c8c8c"/>
<rect x="279" y="23" width="26" height="1" fill="#fff"/>
<rect x="304" y="1" width="1" height="23" fill="#fff"/>
<path d="M287.5 8V21 M285 18.5H298" stroke="#555" stroke-width="1.3" fill="none"/>
<path d="M285.5 9.5L287.5 7L289.5 9.5Z M297 16.5L299.5 18.5L297 20.5Z" fill="#555"/>
<path d="M293.5 5V17" stroke="#129012" stroke-width="1.2"/>
<rect x="291.3" y="7.3" width="4.4" height="7.4" fill="#4ee04e" stroke="#0f900f" stroke-width="1.2"/>
<path d="M315.5 8V21 M313 18.5H326" stroke="#555" stroke-width="1.3" fill="none"/>
<path d="M313.5 9.5L315.5 7L317.5 9.5Z M325 16.5L327.5 18.5L325 20.5Z" fill="#555"/>
<path d="M314 15.6Q320 7 326 14.3" stroke="#2a9a2a" stroke-width="1.2" fill="none"/>
<rect x="336" y="2" width="1" height="21" fill="#a0a0a0"/>
<path d="M354.5 15.5L360 20.5" stroke="#a88a10" stroke-width="3"/>
<path d="M354.8 15.8L359.5 20.2" stroke="#f0d860" stroke-width="1.5"/>
<circle cx="351" cy="10.8" r="5.5" fill="#d8f0fc" stroke="#3a7ec8" stroke-width="1.2"/>
<path d="M348 10.8H354" stroke="#3a80b8" stroke-width="2"/>
<path d="M351 7.8V13.8" stroke="#3a80b8" stroke-width="2"/>
<path d="M382.5 15.5L388 20.5" stroke="#a88a10" stroke-width="3"/>
<path d="M382.8 15.8L387.5 20.2" stroke="#f0d860" stroke-width="1.5"/>
<circle cx="379" cy="10.8" r="5.5" fill="#d8f0fc" stroke="#3a7ec8" stroke-width="1.2"/>
<path d="M376 10.8H382" stroke="#3a80b8" stroke-width="2"/>
<rect x="401" y="5" width="8" height="8" fill="#2a9a1a"/><rect x="409" y="5" width="8" height="8" fill="#1a4ad0"/><rect x="401" y="13" width="8" height="8" fill="#1a4ad0"/><rect x="409" y="13" width="8" height="8" fill="#2a9a1a"/>
<rect x="402" y="8" width="6" height="3" fill="none" stroke="#fff" stroke-width="1"/>
<rect x="410" y="8" width="6" height="3" fill="none" stroke="#fff" stroke-width="1"/>
<rect x="402" y="16" width="6" height="3" fill="none" stroke="#fff" stroke-width="1"/>
<rect x="410" y="16" width="6" height="3" fill="none" stroke="#fff" stroke-width="1"/>
<rect x="426" y="2" width="1" height="21" fill="#a0a0a0"/>
<rect x="431" y="1" width="25" height="22" fill="#f8f8f8"/>
<rect x="431" y="1" width="25" height="1" fill="#8c8c8c"/>
<rect x="431" y="1" width="1" height="22" fill="#8c8c8c"/>
<rect x="431" y="23" width="26" height="1" fill="#fff"/>
<rect x="456" y="1" width="1" height="23" fill="#fff"/>
<path d="M439.5 8V21 M437 18.5H450" stroke="#555" stroke-width="1.3" fill="none"/>
<path d="M437.5 9.5L439.5 7L441.5 9.5Z M449 16.5L451.5 18.5L449 20.5Z" fill="#555"/>
<path d="M444.5 9.5V15.5L448 12.5Z" fill="#5ad05a" stroke="#1a9a1a" stroke-width="1"/>
<rect x="459" y="1" width="25" height="22" fill="#f8f8f8"/>
<rect x="459" y="1" width="25" height="1" fill="#8c8c8c"/>
<rect x="459" y="1" width="1" height="22" fill="#8c8c8c"/>
<rect x="459" y="23" width="26" height="1" fill="#fff"/>
<rect x="484" y="1" width="1" height="23" fill="#fff"/>
<path d="M467.5 8V21 M465 18.5H478" stroke="#555" stroke-width="1.3" fill="none"/>
<path d="M465.5 9.5L467.5 7L469.5 9.5Z M477 16.5L479.5 18.5L477 20.5Z" fill="#555"/>
<path d="M473.5 7V17" stroke="#1a6ab0" stroke-width="1.3"/>
<path d="M474.5 12.3L477.5 10V11.6H479V13H477.5V14.6Z" fill="#e0500a"/>
<rect x="488" y="2" width="1" height="21" fill="#a0a0a0"/>
<path d="M498.5 5.5H506.5L509.5 8.5V18.5H498.5Z" fill="#fff" stroke="#777" stroke-width="1"/>
<path d="M502 8C500 9 501 12 500.5 16" stroke="#555" stroke-width="0.8" fill="none"/>
<path d="M506 11.5H510V15.5H514V19.5H510V23H506V19.5H502V15.5H506Z" fill="#1ec21e" stroke="#0a8a0a" stroke-width="0.8"/>
<path d="M519.5 12H525.0L522.25 15Z" fill="#000"/>
<circle cx="544" cy="12.7" r="7.2" fill="#fff" stroke="#1a70d0" stroke-width="2.2"/>
<path d="M543 8.5V13H546" stroke="#222" stroke-width="1.1" fill="none"/>
<path d="M558.5 12H564.0L561.25 15Z" fill="#000"/>
<rect x="575.5" y="6.5" width="15" height="13" fill="#fff" stroke="#2a6ac0" stroke-width="1"/>
<rect x="576" y="7" width="14" height="2" fill="#6aa0e0"/>
<path d="M576 13.8H590" stroke="#2a6ac0" stroke-width="1"/>
<path d="M577 12L580 11.5L582 10.5L584 11.5L587 10.5L589 10" stroke="#a02010" stroke-width="1" fill="none"/>
<path d="M578 17.5L580 16.5L582 17.2L584 15.5L586 16.5L588 17.5" stroke="#1a9a1a" stroke-width="1" fill="none"/>
<path d="M597.5 12H603.0L600.25 15Z" fill="#000"/>
<rect x="609" y="0" width="1" height="25" fill="#808080"/><rect x="610" y="0" width="1" height="25" fill="#fff"/>
<rect x="613" y="3" width="3" height="1" fill="#8a8a8a"/>
<rect x="613" y="5" width="3" height="1" fill="#8a8a8a"/>
<rect x="613" y="7" width="3" height="1" fill="#8a8a8a"/>
<rect x="613" y="9" width="3" height="1" fill="#8a8a8a"/>
<rect x="613" y="11" width="3" height="1" fill="#8a8a8a"/>
<rect x="613" y="13" width="3" height="1" fill="#8a8a8a"/>
<rect x="613" y="15" width="3" height="1" fill="#8a8a8a"/>
<rect x="613" y="17" width="3" height="1" fill="#8a8a8a"/>
<rect x="613" y="19" width="3" height="1" fill="#8a8a8a"/>
<rect x="613" y="21" width="3" height="1" fill="#8a8a8a"/>
<rect x="619" y="1" width="25" height="22" fill="#f8f8f8"/>
<rect x="619" y="1" width="25" height="1" fill="#8c8c8c"/>
<rect x="619" y="1" width="1" height="22" fill="#8c8c8c"/>
<rect x="619" y="23" width="26" height="1" fill="#fff"/>
<rect x="644" y="1" width="1" height="23" fill="#fff"/>
<path d="M627 6V17L629.5 14.5L632 19.8L634 19L631.8 13.8H635Z" fill="#444"/>
<path d="M659.5 6V12.5M659.5 14.5V21M652 13.5H658.5M660.5 13.5H667" stroke="#444" stroke-width="1.3"/>
<rect x="676" y="2" width="1" height="21" fill="#a0a0a0"/>
<path d="M693.5 7V20" stroke="#444" stroke-width="1.3"/>
<path d="M716 13.5H728" stroke="#444" stroke-width="1.3"/>
<path d="M744 20L756 8" stroke="#444" stroke-width="1.1"/>
<path d="M769.5 14.5L779 6.5M771 19.5L784 11M772.5 11.5L772.5 18.5M775.5 9.5L775.5 16.5M778.5 7.5L778.5 14.5M781.5 5L781.5 12.5" stroke="#333" stroke-width="1.1" fill="none"/>
<text x="781" y="21.7" font-family="Liberation Sans" font-size="6.5" font-weight="bold" fill="#333">E</text>
<path d="M799 6.5H812M799 9.5H812M799 13.5H812M799 17.5H808" stroke="#555" stroke-width="1" stroke-dasharray="1,1" fill="none"/>
<text x="809" y="21.7" font-family="Liberation Sans" font-size="6.5" font-weight="bold" fill="#444">F</text>
<text x="829.5" y="18" font-family="Liberation Sans" font-size="12" fill="#555">A</text>
<rect x="856.5" y="7.5" width="11" height="12" fill="none" stroke="#555" stroke-width="1" stroke-dasharray="1,1"/>
<path d="M858.5 10.5H865.5M862 10.5V17.7" stroke="#555" stroke-width="1.5"/>
<path d="M883 11L886.5 7L890 11Z M890 15.8L893.5 19.8L897 15.8Z" fill="#555"/>
<path d="M885 12.5L887.5 15.5L892 11" stroke="#444" stroke-width="1.2" fill="none"/>
<path d="M903.5 12H909.0L906.25 15Z" fill="#000"/>
<rect x="915" y="0" width="1" height="25" fill="#808080"/><rect x="916" y="0" width="1" height="25" fill="#fff"/>
<rect x="919" y="3" width="3" height="1" fill="#8a8a8a"/>
<rect x="919" y="5" width="3" height="1" fill="#8a8a8a"/>
<rect x="919" y="7" width="3" height="1" fill="#8a8a8a"/>
<rect x="919" y="9" width="3" height="1" fill="#8a8a8a"/>
<rect x="919" y="11" width="3" height="1" fill="#8a8a8a"/>
<rect x="919" y="13" width="3" height="1" fill="#8a8a8a"/>
<rect x="919" y="15" width="3" height="1" fill="#8a8a8a"/>
<rect x="919" y="17" width="3" height="1" fill="#8a8a8a"/>
<rect x="919" y="19" width="3" height="1" fill="#8a8a8a"/>
<rect x="919" y="21" width="3" height="1" fill="#8a8a8a"/>
<rect x="1065" y="1" width="25" height="22" fill="#f8f8f8"/>
<rect x="1065" y="1" width="25" height="1" fill="#8c8c8c"/>
<rect x="1065" y="1" width="1" height="22" fill="#8c8c8c"/>
<rect x="1065" y="23" width="26" height="1" fill="#fff"/>
<rect x="1090" y="1" width="1" height="23" fill="#fff"/>
<rect x="1176" y="0" width="1" height="25" fill="#808080"/><rect x="1177" y="0" width="1" height="25" fill="#fff"/>
<circle cx="1646.6" cy="10.4" r="3.8" fill="none" stroke="#2060d0" stroke-width="1.3"/>
<path d="M1644 13.2L1639.5 17.8" stroke="#2060d0" stroke-width="2"/>
<ellipse cx="1669" cy="15" rx="5.5" ry="4.5" fill="#e4e6ee" stroke="#aaa" stroke-width="0.8"/>
<path d="M1666 18.5L1666 21.5L1669 19" fill="#aaa"/>
<circle cx="1677.5" cy="10.4" r="8" fill="#e0321c"/>
<text x="1677.8" y="15" text-anchor="middle" font-family="Liberation Serif" font-size="13" font-weight="bold" fill="#fff">1</text>
</svg>
<div class="ax pax" style="left:1650px;top:50px;">1.25470</div>
<div class="ax pax" style="left:1650px;top:83px;">1.25340</div>
<div class="ax pax" style="left:1650px;top:116px;">1.25210</div>
<div class="ax pax" style="left:1650px;top:149px;">1.25080</div>
<div class="ax pax" style="left:1650px;top:182px;">1.24950</div>
<div class="ax pax" style="left:1650px;top:215px;">1.24820</div>
<div class="ax pax" style="left:1650px;top:248px;">1.24690</div>
<div class="ax pax" style="left:1650px;top:281px;">1.24560</div>
<div class="ax pax" style="left:1650px;top:314px;">1.24430</div>
<div class="ax pax" style="left:1650px;top:347px;">1.24300</div>
<div class="ax pax" style="left:1650px;top:380px;">1.24170</div>
<div class="ax pax" style="left:1650px;top:413px;">1.24040</div>
<div class="ax pax" style="left:1650px;top:446px;">1.23910</div>
<div class="ax pax" style="left:1650px;top:479px;">1.23780</div>
<div class="ax pax" style="left:1650px;top:512px;">1.23650</div>
<div class="ax pax" style="left:1650px;top:545px;">1.23520</div>
<div class="ax pax" style="left:1650px;top:578px;">1.23390</div>
<div class="plab" style="top:110px;background:#ff0000">1.25232</div>
<div class="plab" style="top:142px;background:#ff0000">1.25107</div>
<div class="plab" style="top:179px;background:#000">1.24965</div>
<div class="plab" style="top:193px;background:#ffa500">1.24907</div>
<div class="plab" style="top:228px;background:#0000ff">1.24769</div>
<div class="plab" style="top:263px;background:#0000ff">1.24632</div>
<div class="ax" style="left:1648px;top:591px;">0.00314</div>
<div class="ax" style="left:1648px;top:652px;">0.00</div>
<div class="ax" style="left:1648px;top:694px;">-0.002258</div>
<div class="ax" style="left:1648px;top:710px;">100</div>
<div class="ax" style="left:1647px;top:729px;">80</div>
<div class="ax" style="left:1647px;top:765px;">50</div>
<div class="ax" style="left:1647px;top:807px;">15</div>
<div class="ax" style="left:1648px;top:819px;">0</div>
<div class="ax" style="left:4px;top:835px;">10 Apr 2023</div>
<div class="ax" style="left:68px;top:835px;">11 Apr 04:00</div>
<div class="ax" style="left:132px;top:835px;">11 Apr 20:00</div>
<div class="ax" style="left:196px;top:835px;">12 Apr 12:00</div>
<div class="ax" style="left:260px;top:835px;">13 Apr 04:00</div>
<div class="ax" style="left:324px;top:835px;">13 Apr 20:00</div>
<div class="ax" style="left:388px;top:835px;">14 Apr 12:00</div>
<div class="ax" style="left:452px;top:835px;">17 Apr 04:00</div>
<div class="ax" style="left:516px;top:835px;">17 Apr 20:00</div>
<div class="ax" style="left:580px;top:835px;">18 Apr 12:00</div>
<div class="ax" style="left:644px;top:835px;">19 Apr 04:00</div>
<div class="ax" style="left:708px;top:835px;">19 Apr 20:00</div>
<div class="ax" style="left:772px;top:835px;">20 Apr 12:00</div>
<div class="ax" style="left:836px;top:835px;">21 Apr 04:00</div>
<div class="ax" style="left:900px;top:835px;">23 Apr 23:00</div>
<div class="ax" style="left:964px;top:835px;">24 Apr 12:00</div>
<div class="ax" style="left:1028px;top:835px;">25 Apr 04:00</div>
<div class="ax" style="left:1092px;top:835px;">25 Apr 20:00</div>
<div class="ax" style="left:1156px;top:835px;">26 Apr 12:00</div>
<div class="ax" style="left:1220px;top:835px;">27 Apr 04:00</div>
<div class="ax" style="left:1284px;top:835px;">27 Apr 20:00</div>
<div class="ax" style="left:20px;top:31px;">GBPUSD-,H4&nbsp; 1.24893 1.24988 1.24881 1.24965</div>
<div class="ax" style="left:9px;top:594px;">MACD(12,26,9) 0.001264 0.000868</div>
<div class="ax" style="left:9px;top:712px;">RSI(14) 60.7070</div>
<div class="tbc" style="left:34px;top:5px;font-size:12px">新订单</div>
<div class="tbc" style="left:186px;top:5px;font-size:12px">自动交易</div>
<div class="tbt" style="left:930px;top:7px">M1</div>
<div class="tbt" style="left:958.5px;top:7px">M5</div>
<div class="tbt" style="left:985px;top:7px">M15</div>
<div class="tbt" style="left:1013px;top:7px">M30</div>
<div class="tbt" style="left:1043.5px;top:7px">H1</div>
<div class="tbt" style="left:1070px;top:7px">H4</div>
<div class="tbt" style="left:1100px;top:7px">D1</div>
<div class="tbt" style="left:1127px;top:7px">W1</div>
<div class="tbt" style="left:1154px;top:7px">MN</div>
<!--TOOLBAR-->
</body></html>
